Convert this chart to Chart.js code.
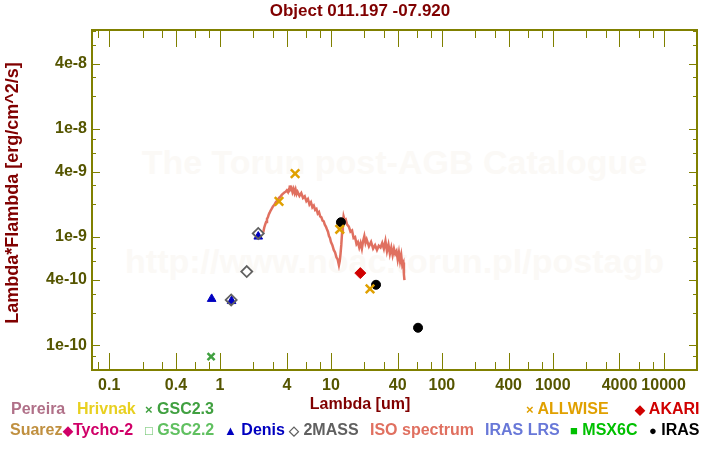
<!DOCTYPE html>
<html>
<head>
<meta charset="utf-8">
<script src="https://cdn.jsdelivr.net/npm/chart.js@4.4.1/dist/chart.umd.min.js"></script>
<style>
  body { margin: 0; background: #fff; }
  #wrap { position: relative; width: 720px; height: 450px; font-family: "Liberation Sans", Arial, sans-serif; font-weight: bold; }
  #wrap canvas { position: absolute; left: 0; top: 0; z-index: 1; }
  .wm { position: absolute; left: 0; width: 789px; text-align: center; font-size: 34px; color: #fbf9f6; z-index: 0; white-space: nowrap; }
  .t { position: absolute; z-index: 2; white-space: nowrap; font-size: 16px; line-height: 18px; }
  .m { font-size: 13px; }
</style>
</head>
<body>
<div id="wrap">
  <div class="wm" style="top:143px;">The Torun post-AGB Catalogue</div>
  <div class="wm" style="top:242px;">http://www.noac.torun.pl/postagb</div>
  <canvas id="sedChart" width="720" height="450"></canvas>

  <div class="t" style="left:0;width:720px;text-align:center;top:2px;color:#800000;font-size:17px;">Object 011.197 -07.920</div>
  <div class="t" style="left:0;width:720px;text-align:center;top:395px;color:#800000;">Lambda [um]</div>
  <div class="t" style="left:-138px;top:183px;width:300px;text-align:center;color:#800000;font-size:18px;line-height:20px;transform:rotate(-90deg);">Lambda*Flambda [erg/cm^2/s]</div>

  <div class="t" style="left:11px;top:400px;color:#b07088;">Pereira</div>
  <div class="t" style="left:77px;top:400px;color:#e8d020;">Hrivnak</div>
  <div class="t" style="left:145px;top:400px;color:#40a040;"><span class="m">×</span> GSC2.3</div>
  <div class="t" style="left:526px;top:400px;color:#e0a000;"><span class="m">×</span> ALLWISE</div>
  <div class="t" style="left:635px;top:400px;color:#d00000;"><span class="m">◆</span> AKARI</div>

  <div class="t" style="left:10px;top:421px;color:#c09040;">Suarez</div>
  <div class="t" style="left:63px;top:421px;color:#d00068;"><span class="m">◆</span>Tycho-2</div>
  <div class="t" style="left:145px;top:421px;color:#60c060;"><span class="m">□</span> GSC2.2</div>
  <div class="t" style="left:224px;top:421px;color:#0000c0;"><span class="m">▲</span> Denis</div>
  <div class="t" style="left:289px;top:421px;color:#606060;"><span class="m">◇</span> 2MASS</div>
  <div class="t" style="left:370px;top:421px;color:#e07060;">ISO spectrum</div>
  <div class="t" style="left:485px;top:421px;color:#6878d8;">IRAS LRS</div>
  <div class="t" style="left:570px;top:421px;color:#00c000;"><span class="m">■</span> MSX6C</div>
  <div class="t" style="left:649px;top:421px;color:#000;"><span class="m">●</span> IRAS</div>
</div>
<script>
// photometry (lambda in um, lambda*F_lambda in erg/cm^2/s)
var allwiseLambda = [3.4, 4.75, 12.0, 22.5];
var allwiseFlux = [2.14e-9, 3.85e-9, 1.18e-9, 3.31e-10];
var massLambda = [1.26, 1.74, 2.21];
var massFlux = [2.62e-10, 4.8e-10, 1.08e-9];
var denisLambda = [0.84, 1.27, 2.21];
var denisFlux = [2.68e-10, 2.56e-10, 1.01e-9];
var irasLambda = [12.3, 25.5, 61];
var irasFlux = [1.37e-9, 3.62e-10, 1.45e-10];
var akariLambda = [18.4];
var akariFlux = [4.64e-10];
var gsc23Lambda = [0.83];
var gsc23Flux = [7.85e-11];

// ISO spectrum
var isoLambda = [2.45, 2.5, 2.55, 2.6, 2.65, 2.7, 2.75, 2.8, 2.85, 2.9, 3.0, 3.1, 3.2, 3.3, 3.4, 3.5, 3.6, 3.7, 3.8, 3.9,
  4.0, 4.1, 4.2, 4.25, 4.3, 4.4, 4.5, 4.6, 4.7, 4.8, 4.9, 5.0, 5.2, 5.4, 5.6, 5.8, 6.0, 6.2, 6.4, 6.6,
  6.8, 7.0, 7.2, 7.4, 7.6, 7.8, 8.0, 8.2, 8.4, 8.6, 8.8, 9.0, 9.2, 9.4, 9.6, 9.8, 10.0, 10.3, 10.6, 10.9,
  11.2, 11.5, 11.8, 12.0, 12.2, 12.4, 12.6, 12.8, 13.0, 13.3, 13.6, 14.0, 14.5, 15.0, 15.5, 16.0, 16.5, 17.0, 17.5, 18.0,
  18.5, 19.0, 19.5, 20.0, 20.5, 21.0, 22.0, 23.0, 24.0, 25.0, 26.0, 27.0, 28.0, 29.0, 30.0, 31.0, 32.0, 33.0, 34.0, 35.0,
  36.0, 37.0, 38.0, 39.0, 40.0, 41.0, 42.0, 43.0, 44.0, 45.0, 45.5, 46.0];
var isoFlux = [1.10e-9, 1.22e-9, 1.30e-9, 1.38e-9, 1.47e-9, 1.52e-9, 1.62e-9, 1.68e-9, 1.75e-9, 1.80e-9, 1.92e-9, 2.00e-9, 2.12e-9, 2.18e-9, 2.30e-9, 2.36e-9, 2.45e-9, 2.52e-9, 2.58e-9, 2.62e-9,
  2.70e-9, 2.60e-9, 2.80e-9, 3.00e-9, 2.75e-9, 2.85e-9, 2.60e-9, 2.78e-9, 2.55e-9, 2.75e-9, 2.50e-9, 2.62e-9, 2.40e-9, 2.55e-9, 2.30e-9, 2.38e-9, 2.15e-9, 2.25e-9, 2.00e-9, 2.10e-9,
  1.88e-9, 1.95e-9, 1.78e-9, 1.82e-9, 1.65e-9, 1.70e-9, 1.55e-9, 1.52e-9, 1.42e-9, 1.40e-9, 1.30e-9, 1.25e-9, 1.18e-9, 1.12e-9, 1.02e-9, 0.98e-9, 0.90e-9, 0.84e-9, 0.76e-9, 0.72e-9,
  0.65e-9, 0.62e-9, 0.55e-9, 0.60e-9, 0.70e-9, 0.85e-9, 1.10e-9, 1.35e-9, 1.55e-9, 1.42e-9, 1.45e-9, 1.30e-9, 1.25e-9, 1.12e-9, 1.15e-9, 0.98e-9, 1.00e-9, 0.86e-9, 0.90e-9, 0.80e-9,
  0.88e-9, 0.78e-9, 0.92e-9, 1.02e-9, 0.88e-9, 0.95e-9, 0.82e-9, 0.90e-9, 0.78e-9, 0.84e-9, 0.76e-9, 0.83e-9, 0.80e-9, 0.88e-9, 0.78e-9, 0.92e-9, 0.74e-9, 0.85e-9, 0.70e-9, 0.80e-9,
  0.68e-9, 0.78e-9, 0.70e-9, 0.74e-9, 0.62e-9, 0.72e-9, 0.60e-9, 0.68e-9, 0.55e-9, 0.58e-9, 0.45e-9, 0.40e-9];

// labelled ticks
var xTickLabels = [0.1, 0.4, 1, 4, 10, 40, 100, 400, 1000, 4000, 10000];
var yTickLabels = [1e-10, 4e-10, 1e-9, 4e-9, 1e-8, 4e-8];

function pts(xs, ys) {
  return xs.map(function (x, i) { return { x: x, y: ys[i] }; });
}

var olive = '#808000';

// frame + inward tick marks on all four sides
var frameTicks = {
  id: 'frameTicks',
  afterDraw: function (chart) {
    var c = chart.ctx, a = chart.chartArea;
    var xs = chart.scales.x, ys = chart.scales.y;
    c.save();
    c.strokeStyle = olive;
    c.lineWidth = 1;
    var mult = [1, 2, 3, 4, 6, 8];
    for (var d = -2; d <= 4; d++) {
      mult.forEach(function (m) {
        var v = m * Math.pow(10, d);
        var big = (m === 1 || m === 4);
        if (v > xs.min && v < xs.max) {
          var px = Math.round(xs.getPixelForValue(v)) + 0.5;
          var L = big ? 17 : 8;
          c.beginPath();
          c.moveTo(px, a.bottom); c.lineTo(px, a.bottom - L);
          c.moveTo(px, a.top); c.lineTo(px, a.top + L);
          c.stroke();
        }
      });
    }
    for (var e = -11; e <= -7; e++) {
      mult.forEach(function (m) {
        var v = m * Math.pow(10, e);
        var big = (m === 1 || m === 4);
        if (v > ys.min && v < ys.max) {
          var py = Math.round(ys.getPixelForValue(v)) + 0.5;
          var L = big ? 8 : 4;
          c.beginPath();
          c.moveTo(a.left, py); c.lineTo(a.left + L, py);
          c.moveTo(a.right, py); c.lineTo(a.right - L, py);
          c.stroke();
        }
      });
    }
    c.lineWidth = 2;
    c.strokeRect(a.left, a.top, a.right - a.left, a.bottom - a.top);
    c.restore();
  }
};

var tickFont = { family: '"Liberation Sans", Arial, sans-serif', size: 16, weight: 'bold' };

var ctx = document.getElementById('sedChart').getContext('2d');
var sedChart = new Chart(ctx, {
  type: 'scatter',
  data: {
    datasets: [
      { label: 'ALLWISE', data: pts(allwiseLambda, allwiseFlux), pointStyle: 'crossRot', pointRadius: 6, borderColor: '#e0a000', borderWidth: 2.5 },
      { label: 'AKARI', data: pts(akariLambda, akariFlux), pointStyle: 'rectRot', pointRadius: 5.5, backgroundColor: '#d00000', borderColor: '#d00000', borderWidth: 1 },
      { label: 'IRAS', data: pts(irasLambda, irasFlux), pointStyle: 'circle', pointRadius: 4.5, backgroundColor: '#000', borderColor: '#000', borderWidth: 1 },
      { label: '2MASS', data: pts(massLambda, massFlux), pointStyle: 'rectRot', pointRadius: 5.5, backgroundColor: 'rgba(255,255,255,0)', borderColor: '#606060', borderWidth: 1.8 },
      { label: 'Denis', data: pts(denisLambda, denisFlux), pointStyle: 'triangle', pointRadius: 5, backgroundColor: '#0000c0', borderColor: '#0000c0', borderWidth: 1 },
      { label: 'GSC2.3', data: pts(gsc23Lambda, gsc23Flux), pointStyle: 'crossRot', pointRadius: 5, borderColor: '#40a040', borderWidth: 2.5 },
      { label: 'ISO spectrum', type: 'line', data: pts(isoLambda, isoFlux), showLine: true, pointRadius: 0, borderColor: '#e07060', borderWidth: 2.5, tension: 0 }
    ]
  },
  options: {
    responsive: false,
    animation: false,
    devicePixelRatio: 1,
    layout: { padding: { left: 0, right: 23, top: 30, bottom: 50 } },
    plugins: { legend: { display: false }, title: { display: false }, tooltip: { enabled: false } },
    scales: {
      x: {
        type: 'logarithmic', min: 0.07, max: 20000,
        grid: { display: false, drawTicks: false },
        border: { display: false },
        afterBuildTicks: function (s) { s.ticks = xTickLabels.map(function (v) { return { value: v }; }); },
        afterFit: function (s) { s.height = 30; },
        ticks: { color: '#555500', font: tickFont, padding: 6, maxRotation: 0, autoSkip: false,
          callback: function (v) { return String(v); } }
      },
      y: {
        type: 'logarithmic', min: 5.9e-11, max: 8.2e-8,
        grid: { display: false, drawTicks: false },
        border: { display: false },
        afterBuildTicks: function (s) { s.ticks = yTickLabels.map(function (v) { return { value: v }; }); },
        afterFit: function (s) { s.width = 92; },
        ticks: { color: '#555500', font: tickFont, padding: 5, autoSkip: false,
          callback: function (v) { return Number(v).toExponential(0); } }
      }
    }
  },
  plugins: [frameTicks]
});
</script>
</body>
</html>
